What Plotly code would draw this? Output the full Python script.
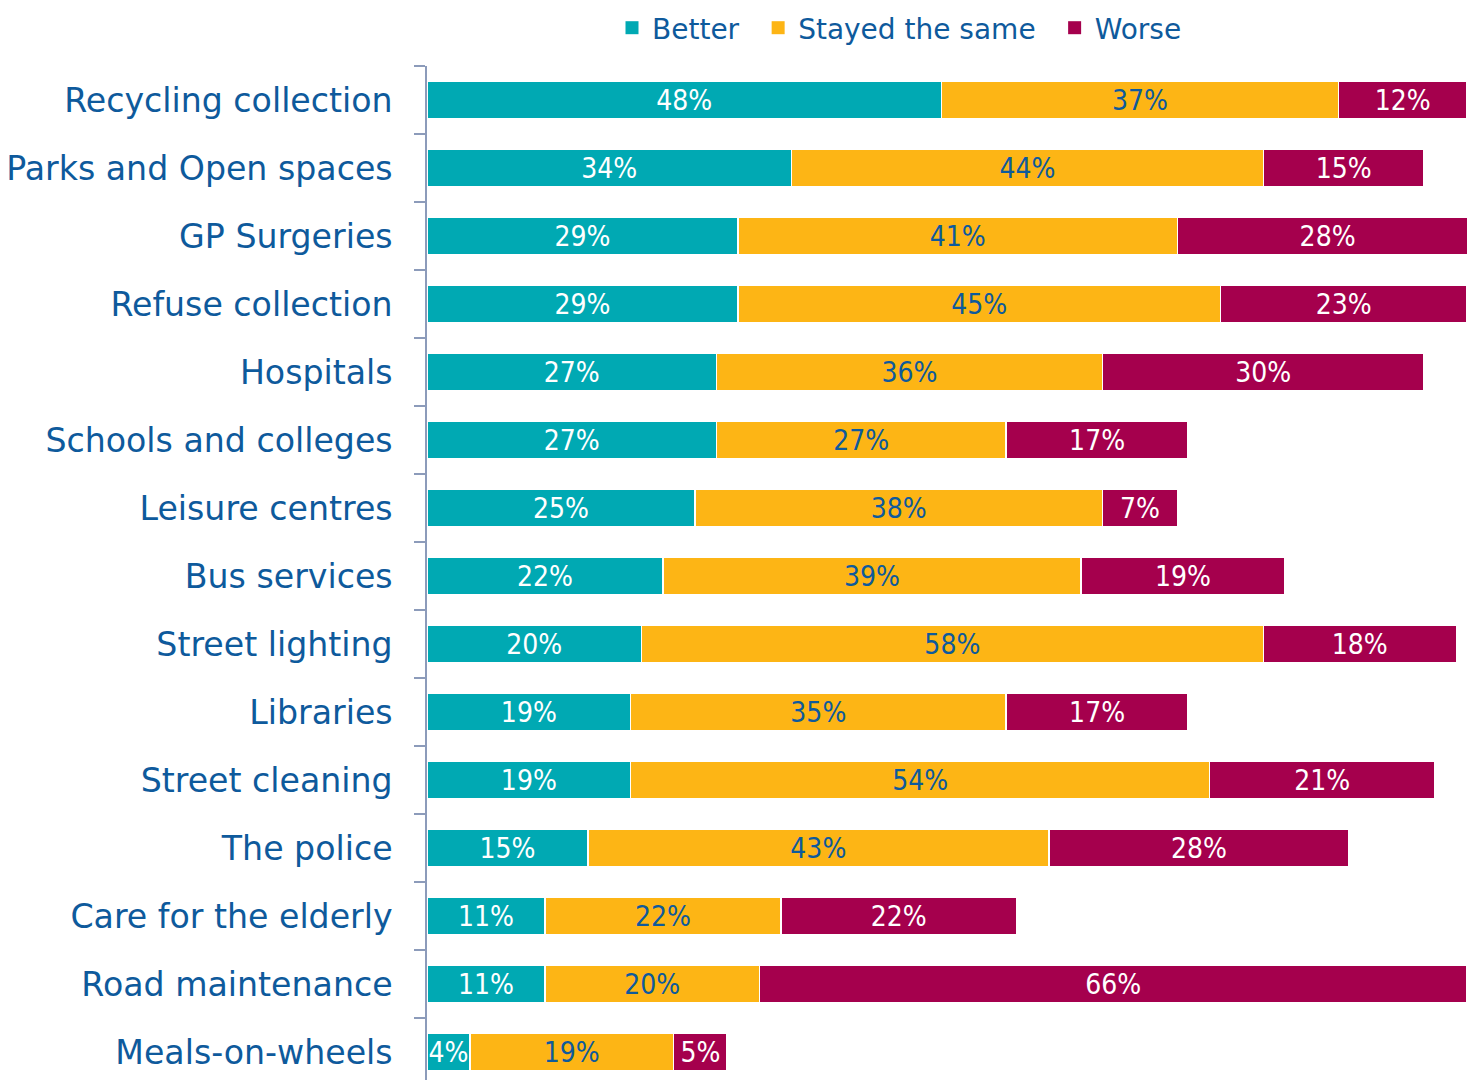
import plotly.graph_objects as go

categories = ["Recycling collection", "Parks and Open spaces", "GP Surgeries",
              "Refuse collection", "Hospitals", "Schools and colleges",
              "Leisure centres", "Bus services", "Street lighting", "Libraries",
              "Street cleaning", "The police", "Care for the elderly",
              "Road maintenance", "Meals-on-wheels"]
better = [48, 34, 29, 29, 27, 27, 25, 22, 20, 19, 19, 15, 11, 11, 4]
same = [37, 44, 41, 45, 36, 27, 38, 39, 58, 35, 54, 43, 22, 20, 19]
worse = [12, 15, 28, 23, 30, 17, 7, 19, 18, 17, 21, 28, 22, 66, 5]

series_names = ["Better", "Stayed the same", "Worse"]
colors = ["#00A9B3", "#FDB515", "#A5004D"]
text_colors = ["#FFFFFF", "#0E5A9C", "#FFFFFF"]
FONT = "DejaVu Sans"
FONT_C = "DejaVu Sans Condensed"
BLUE = "#0E5A9C"

W, H = 1467, 1080

fig = go.Figure()
for name, vals, c, tc in zip(series_names, [better, same, worse], colors, text_colors):
    fig.add_trace(go.Bar(
        y=categories, x=vals, name=name, orientation="h", showlegend=False,
        marker=dict(color=c, line=dict(color="white", width=1.5)),
        text=[f"{v}%" for v in vals], textposition="inside",
        insidetextanchor="middle", constraintext="none",
        textfont=dict(family=FONT_C, size=28, color=tc),
        width=0.55, cliponaxis=True,
    ))
# legend entries with larger square swatches
for i, (name, c) in enumerate(zip(series_names, colors)):
    label = name + ("\u2002" if i < len(series_names) - 1 else "")
    fig.add_trace(go.Scatter(
        x=[None], y=[None], mode="markers", name=label,
        marker=dict(symbol="square", size=13, color=c), showlegend=True,
    ))

fig.update_layout(
    barmode="stack",
    width=W, height=H,
    margin=dict(l=427, r=0, t=66, b=0),
    plot_bgcolor="white", paper_bgcolor="white",
    font=dict(family=FONT, color=BLUE),
    uniformtext=dict(minsize=28, mode="show"),
    legend=dict(orientation="h", xref="container", yref="container",
                x=612 / W, xanchor="left", y=1 - 28 / H, yanchor="middle",
                font=dict(family=FONT, size=28, color=BLUE),
                traceorder="normal", itemwidth=30),
)
fig.update_xaxes(range=[0, 97], visible=False, showgrid=False)
fig.update_yaxes(
    range=[14.41, -0.5], type="category",
    showline=True, linecolor="#8C9BBA", linewidth=1.5,
    ticks="outside", tickson="boundaries", ticklen=11, tickcolor="#8C9BBA", tickwidth=1.5,
    tickfont=dict(family=FONT, size=33.2, color=BLUE),
    ticklabelstandoff=26, showgrid=False,
)

fig.write_html("out.html",
               config={"displayModeBar": False},
               post_script="document.body.style.margin='0';document.body.style.overflow='hidden';")
